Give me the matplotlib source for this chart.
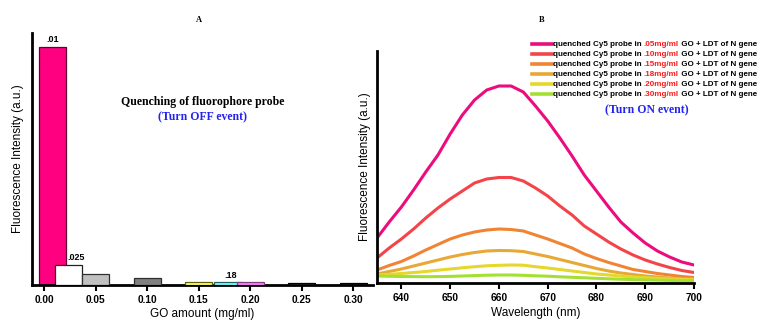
import matplotlib
matplotlib.use("Agg")
import matplotlib.pyplot as plt

plt.rcParams['font.family'] = ['Liberation Sans', 'DejaVu Sans']

# ---------------- Panel A data ----------------
go_amount = [0.0085, 0.024, 0.05, 0.10, 0.15, 0.178, 0.20, 0.25, 0.30]
quench_intensity = [100, 8.4, 4.6, 3.0, 1.4, 1.1, 1.4, 1.0, 1.0]
bar_colors = ['#FF0080', '#FFFFFF', '#C0C0C0', '#808080', '#FFFF80',
              '#80FFFF', '#FF80FF', '#202020', '#101010']
bar_edges = ['#600030', '#202020', '#303030', '#303030', '#606000',
             '#206060', '#804080', '#000000', '#000000']
bar_labels = {0: '.01', 1: '.025', 5: '.18'}
go_ticks = [0.00, 0.05, 0.10, 0.15, 0.20, 0.25, 0.30]
go_ticklabels = ['0.00', '0.05', '0.10', '0.15', '0.20', '0.25', '0.30']

# ---------------- Panel B data ----------------
wavelength = [635, 637.5, 640, 642.5, 645, 647.5, 650, 652.5, 655, 657.5, 660,
              662.5, 665, 667.5, 670, 672.5, 675, 677.5, 680, 682.5, 685,
              687.5, 690, 692.5, 695, 697.5, 700]
go_05 = [45, 61, 76, 93, 111, 128, 149, 168, 183, 193, 197, 197, 191, 177,
         162, 145, 127, 108, 92, 76, 61, 50, 40, 32, 26, 21, 18]
go_10 = [25, 35, 44, 54, 65, 75, 84, 92, 100, 104, 105.5, 105.5, 102, 95, 87,
         77, 68, 57, 49, 41, 34, 28, 23, 19, 15.5, 12.5, 10.5]
go_15 = [13, 17.5, 21.5, 27, 33, 38.5, 44, 48, 51, 53, 54, 53.5, 52, 48, 44,
         39.5, 35, 29, 24.5, 20.5, 17, 13.5, 11.5, 9.5, 8, 6.5, 5.5]
go_18 = [9, 11.5, 14, 17, 20, 23, 26, 28.5, 30.5, 32, 32.5, 32.3, 31.5, 29,
         26.5, 23.5, 20.5, 17.5, 14.5, 12, 10, 8.5, 7, 6, 5, 4.3, 4]
go_20 = [8, 8.7, 9.5, 10.5, 11.5, 12.8, 14, 15.2, 16.3, 17.2, 17.7, 18, 17.8,
         16.3, 15, 13.5, 12, 10.5, 9, 8, 7, 6, 5.3, 4.6, 4, 3.6, 3.3]
go_30 = [7, 6.7, 6.5, 6.4, 6.3, 6.4, 6.6, 7, 7.4, 7.8, 8, 8, 7.7, 7.2, 6.8,
         6.2, 5.7, 5.2, 4.7, 4.2, 3.8, 3.4, 3.1, 2.9, 2.6, 2.4, 2.3]
series = [go_05, go_10, go_15, go_18, go_20, go_30]
series_conc = ['.05mg/ml', '.10mg/ml', '.15mg/ml', '.18mg/ml', '.20mg/ml', '.30mg/ml']
series_colors = ['#EC0C7C', '#F4444A', '#F08434', '#E8A834', '#E4D82C', '#A4E034']
wl_ticks = [640, 650, 660, 670, 680, 690, 700]

W, H = 757, 322
fig = plt.figure(figsize=(W / 100, H / 100), dpi=100)

def fx(px):
    return px / W

def fy(py):
    return 1 - py / H

# ---------------- Panel A ----------------
axA = fig.add_axes([fx(32), fy(285), fx(373 - 32), (285 - 33) / H])
label_ha = {0: 'center', 1: 'left', 5: 'center'}
label_dx = {0: 0.0, 1: -0.001, 5: 0.003}
for i, (x, v) in enumerate(zip(go_amount, quench_intensity)):
    axA.bar(x, v, width=0.026, color=bar_colors[i], edgecolor=bar_edges[i],
            linewidth=0.9, zorder=2 + i)
    if i in bar_labels:
        axA.text(x + label_dx[i], v + 1.2, bar_labels[i], ha=label_ha[i],
                 va='bottom', fontsize=6.5, fontweight='bold', zorder=20)
axA.set_xlim(-0.0117, 0.319)
axA.set_ylim(0, 105.9)
axA.set_xticks(go_ticks)
axA.set_xticklabels(go_ticklabels, fontsize=7.3, fontweight='bold')
axA.set_yticks([])
axA.spines['top'].set_visible(False)
axA.spines['right'].set_visible(False)
axA.spines['left'].set_linewidth(2)
axA.spines['bottom'].set_linewidth(2)
axA.tick_params(axis='x', length=4, width=1.5, pad=3)
axA.set_xlabel('GO amount (mg/ml)', fontsize=8.5, labelpad=2)
axA.set_ylabel('Fluorescence Intensity (a.u.)', fontsize=8.5, labelpad=6)
fig.text(fx(199), fy(20), 'A', ha='center', va='center', fontsize=6,
         fontweight='bold', family='Liberation Serif')
fig.text(fx(203), fy(102), 'Quenching of fluorophore probe', ha='center',
         va='center', fontsize=8.5, fontweight='bold', family='Liberation Serif')
fig.text(fx(203), fy(117), '(Turn OFF event)', ha='center', va='center',
         fontsize=8.5, fontweight='bold', family='Liberation Serif', color='#2424F0')

# ---------------- Panel B ----------------
axB = fig.add_axes([fx(377), fy(283), fx(694 - 377), (283 - 51) / H])
for vals, c in zip(series, series_colors):
    axB.plot(wavelength, vals, color=c, linewidth=2.2, solid_joinstyle='round')
axB.set_xlim(635, 700)
axB.set_ylim(0, 232)
axB.set_xticks(wl_ticks)
axB.set_xticklabels([str(t) for t in wl_ticks], fontsize=7.3, fontweight='bold')
axB.set_yticks([])
axB.spines['top'].set_visible(False)
axB.spines['right'].set_visible(False)
axB.spines['left'].set_linewidth(2)
axB.spines['bottom'].set_linewidth(2)
axB.tick_params(axis='x', length=4, width=1.5, pad=3)
axB.set_xlabel('Wavelength (nm)', fontsize=8.5, labelpad=3)
axB.set_ylabel('Fluorescence Intensity (a.u.)', fontsize=8.5, labelpad=4)
fig.text(fx(542), fy(20), 'B', ha='center', va='center', fontsize=6,
         fontweight='bold', family='Liberation Serif')

# manual legend with coloured concentration text
row_y = [44, 54, 64, 74, 84, 94]
LFS = 5.8
for ry, conc, c in zip(row_y, series_conc, series_colors):
    fig.add_artist(plt.Line2D([fx(532), fx(552)], [fy(ry), fy(ry)], color=c,
                              linewidth=2.6, transform=fig.transFigure))
    t1 = fig.text(fx(553), fy(ry), 'quenched Cy5 probe in ', ha='left',
                  va='center', fontsize=LFS, fontweight='bold')
    a2 = fig.add_artist(matplotlib.text.Annotation(
        conc, xy=(1, 0), xycoords=t1, va='bottom', ha='left',
        fontsize=LFS, fontweight='bold', color='#FF1A1A', annotation_clip=False))
    fig.add_artist(matplotlib.text.Annotation(
        ' GO + LDT of N gene', xy=(1, 0), xycoords=a2, va='bottom', ha='left',
        fontsize=LFS, fontweight='bold', annotation_clip=False))

fig.text(fx(647), fy(110), '(Turn ON event)', ha='center', va='center',
         fontsize=8.5, fontweight='bold', family='Liberation Serif', color='#2424F0')

fig.savefig('out.png', dpi=100)
